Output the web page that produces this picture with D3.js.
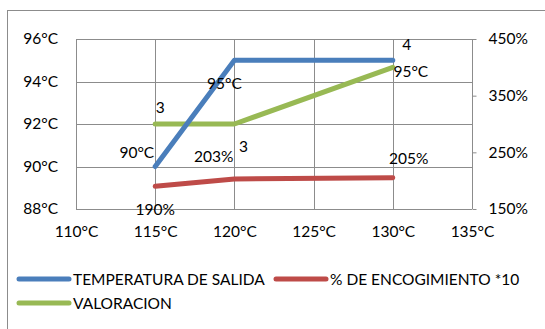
<!DOCTYPE html>
<html>
<head>
<meta charset="utf-8">
<script src="https://cdn.jsdelivr.net/npm/d3@7"></script>
<style>
  html, body { margin: 0; padding: 0; background: #fff; }
  svg { display: block; }
  text { font-family: Lato, "Open Sans", sans-serif; fill: #000; }
</style>
</head>
<body>
<svg id="chart" width="545" height="329"></svg>
<script>
// Temperatures of entry (x), outlet temperature, shrink percentage, rating
const entryTemp = [115, 120, 130];
const outletTemp = [90, 95, 95];
const shrinkPct = [190, 203, 205];
const rating = [3, 3, 4];
const xTicks = [110, 115, 120, 125, 130, 135];
const leftTicks = [88, 90, 92, 94, 96];
const rightTicks = [150, 250, 350, 450];
const seriesNames = ["TEMPERATURA DE SALIDA", "% DE ENCOGIMIENTO *10", "VALORACION"];
const colors = ["#4a7ebb", "#be4b48", "#98b954"];

const FS = 15.5;
const svg = d3.select("#chart");
const plot = { left: 76, right: 472, top: 39, bottom: 209 };

const x = d3.scaleLinear().domain([110, 135]).range([plot.left, plot.right]);
const yL = d3.scaleLinear().domain([88, 96]).range([plot.bottom, plot.top]);
const yR = d3.scaleLinear().domain([150, 450]).range([plot.bottom, plot.top]);

// outer frame
svg.append("rect")
  .attr("x", 7.5).attr("y", 10.5)
  .attr("width", 600).attr("height", 400)
  .attr("fill", "none").attr("stroke", "#8c8c8c").attr("stroke-width", 1);

const grid = "#8c8c8c";
// horizontal gridlines
svg.append("g").selectAll("line").data(leftTicks).join("line")
  .attr("x1", plot.left).attr("x2", plot.right)
  .attr("y1", d => Math.round(yL(d)) + 0.5).attr("y2", d => Math.round(yL(d)) + 0.5)
  .attr("stroke", grid);
// vertical gridlines
svg.append("g").selectAll("line").data(xTicks).join("line")
  .attr("y1", plot.top).attr("y2", plot.bottom)
  .attr("x1", d => Math.round(x(d)) + 0.5).attr("x2", d => Math.round(x(d)) + 0.5)
  .attr("stroke", grid);

// axes
const fmtC = d => d + "°C";
const fmtP = d => d + "%";
const styleAxis = g => {
  g.select(".domain").remove();
  g.selectAll("text").attr("font-size", FS).style("font-family", "Lato, 'Open Sans', sans-serif").attr("fill", "#000");
};
svg.append("g").attr("transform", `translate(${plot.left},0)`)
  .call(d3.axisLeft(yL).tickValues(leftTicks).tickFormat(fmtC).tickSize(0).tickPadding(18))
  .call(styleAxis);
svg.append("g").attr("transform", `translate(0,${plot.bottom})`)
  .call(d3.axisBottom(x).tickValues(xTicks).tickFormat(fmtC).tickSize(0).tickPadding(17))
  .call(styleAxis);
svg.append("g").attr("transform", `translate(${plot.right + 0.5},0)`)
  .call(d3.axisRight(yR).tickValues(rightTicks).tickFormat(fmtP).tickSize(4).tickPadding(12))
  .call(g => { styleAxis(g); g.selectAll("line").attr("stroke", grid); });

// series lines
const blue = entryTemp.map((t, i) => [x(t), yL(outletTemp[i])]);
const red = entryTemp.map((t, i) => [x(t), yR(shrinkPct[i])]);
const green = entryTemp.map((t, i) => [x(t), yR(rating[i] * 100)]);
const line = d3.line();
[[green, colors[2]], [red, colors[1]], [blue, colors[0]]].forEach(([pts, c]) => {
  svg.append("path").attr("d", line(pts))
    .attr("fill", "none").attr("stroke", c).attr("stroke-width", 5)
    .attr("stroke-linecap", "round").attr("stroke-linejoin", "round");
});

// data labels
const lbl = (px, py, txt, anchor) => svg.append("text")
  .attr("x", px).attr("y", py).attr("text-anchor", anchor || "middle")
  .attr("font-size", FS).text(txt);

lbl(x(entryTemp[0]) - 1, yL(outletTemp[0]) - 9, fmtC(outletTemp[0]), "end");
lbl(x(entryTemp[1]) - 10, yL(outletTemp[1]) + 29, fmtC(outletTemp[1]), "middle");
lbl(x(entryTemp[2]) + 18, yL(outletTemp[2]) + 17, fmtC(outletTemp[2]), "middle");

lbl(x(entryTemp[0]), yR(shrinkPct[0]) + 29, fmtP(shrinkPct[0]), "middle");
lbl(x(entryTemp[1]) - 1, yR(shrinkPct[1]) - 17, fmtP(shrinkPct[1]), "end");
lbl(x(entryTemp[2]) + 16, yR(shrinkPct[2]) - 14, fmtP(shrinkPct[2]), "middle");

lbl(x(entryTemp[0]) + 5, yR(rating[0] * 100) - 11, rating[0], "middle");
lbl(x(entryTemp[1]) + 9, yR(rating[1] * 100) + 28, rating[1], "middle");
lbl(x(entryTemp[2]) + 14, yR(rating[2] * 100) - 17, rating[2], "middle");

// legend
const legendItems = [
  { name: seriesNames[0], color: colors[0], lx: 17, ly: 279 },
  { name: seriesNames[1], color: colors[1], lx: 274, ly: 279 },
  { name: seriesNames[2], color: colors[2], lx: 17, ly: 303 }
];
const lg = svg.append("g");
legendItems.forEach(it => {
  lg.append("line").attr("x1", it.lx + 2).attr("x2", it.lx + 52)
    .attr("y1", it.ly).attr("y2", it.ly)
    .attr("stroke", it.color).attr("stroke-width", 5).attr("stroke-linecap", "round");
  lg.append("text").attr("x", it.lx + 56).attr("y", it.ly + 5.5)
    .attr("font-size", FS).text(it.name);
});
</script>
</body>
</html>
